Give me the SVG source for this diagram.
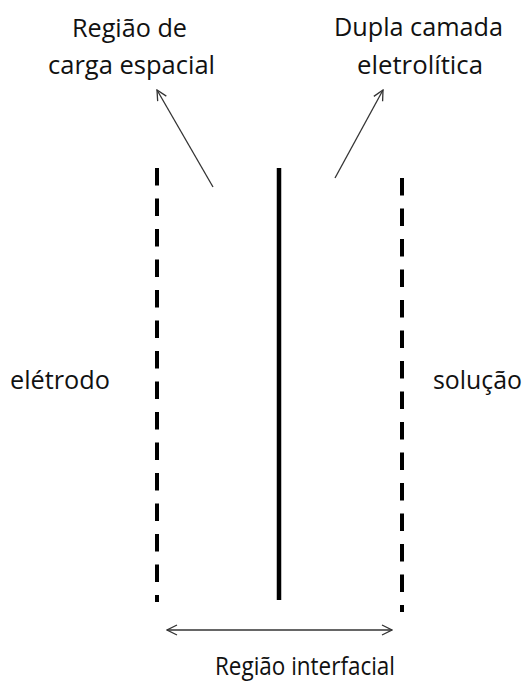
<svg xmlns="http://www.w3.org/2000/svg" width="527" height="691" viewBox="0 0 527 691">
  <style>
    .lbl { font-family: "Open Sans", "Liberation Sans", sans-serif; font-size: 25px; fill: #111; }
    .dash { stroke: #000; stroke-width: 4; stroke-dasharray: 17.5 13; fill: none; }
    .solid { stroke: #000; stroke-width: 4.5; fill: none; }
    .arrow { stroke: #333; stroke-width: 1.3; fill: none; }
  </style>
  <defs>
    <marker id="head" viewBox="0 0 12 12" refX="11" refY="6" markerWidth="12" markerHeight="12" markerUnits="userSpaceOnUse" orient="auto-start-reverse">
      <path d="M1,1 L11,6 L1,11" fill="none" stroke="#333" stroke-width="1.3"/>
    </marker>
  </defs>
  <rect width="527" height="691" fill="#fff"/>

  <g id="electrode-boundary">
    <line class="dash" x1="157" y1="168" x2="157" y2="602"/>
  </g>
  <g id="interface-plane">
    <line class="solid" x1="279" y1="168" x2="279" y2="600"/>
  </g>
  <g id="solution-boundary">
    <line class="dash" x1="402" y1="178" x2="402" y2="612"/>
  </g>

  <g id="connectors">
    <line class="arrow" x1="213" y1="187" x2="157" y2="90" marker-end="url(#head)"/>
    <line class="arrow" x1="335" y1="178" x2="383" y2="90" marker-end="url(#head)"/>
    <line class="arrow" x1="167" y1="630" x2="392" y2="630" marker-start="url(#head)" marker-end="url(#head)"/>
  </g>

  <g id="label-space-charge">
    <text class="lbl" x="72" y="37" textLength="115" lengthAdjust="spacingAndGlyphs">Região de</text>
    <text class="lbl" x="48" y="74" textLength="167" lengthAdjust="spacingAndGlyphs">carga espacial</text>
  </g>
  <g id="label-double-layer">
    <text class="lbl" x="334" y="36" textLength="169" lengthAdjust="spacingAndGlyphs">Dupla camada</text>
    <text class="lbl" x="357" y="74" textLength="126" lengthAdjust="spacingAndGlyphs">eletrolítica</text>
  </g>
  <g id="label-electrode">
    <text class="lbl" x="10" y="389" textLength="100" lengthAdjust="spacingAndGlyphs">elétrodo</text>
  </g>
  <g id="label-solution">
    <text class="lbl" x="433" y="389" textLength="89" lengthAdjust="spacingAndGlyphs">solução</text>
  </g>
  <g id="label-interfacial">
    <text class="lbl" x="215" y="675" textLength="180" lengthAdjust="spacingAndGlyphs">Região interfacial</text>
  </g>
</svg>
